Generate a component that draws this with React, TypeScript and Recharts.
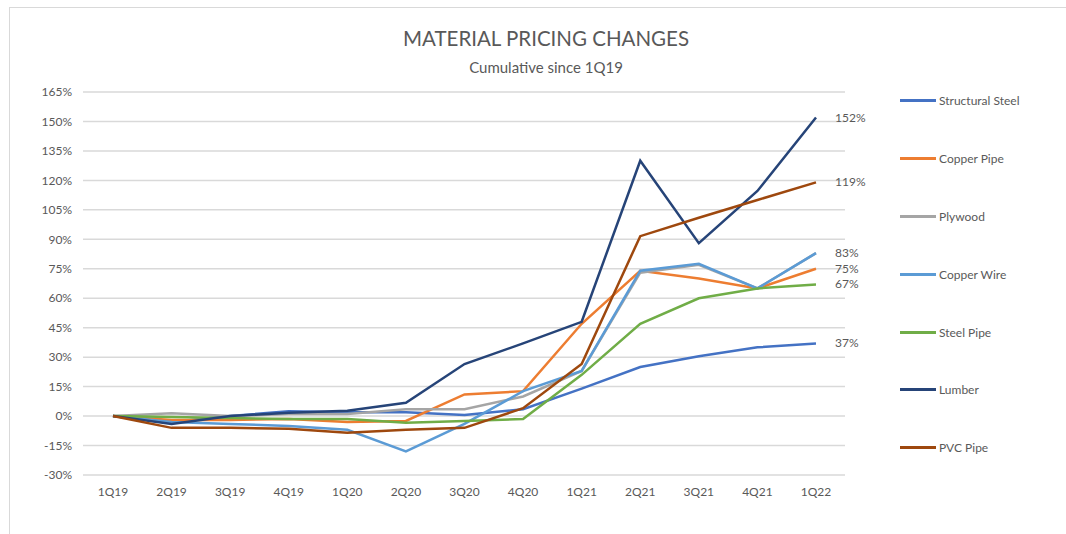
import React from 'react';
import { LineChart, Line, XAxis, YAxis, CartesianGrid, LabelList } from 'recharts';

const quarters = ['1Q19', '2Q19', '3Q19', '4Q19', '1Q20', '2Q20', '3Q20', '4Q20', '1Q21', '2Q21', '3Q21', '4Q21', '1Q22'];

const structuralSteel = [0, -3, 0, 2.5, 2, 2, 0.5, 3.5, 14, 25, 30.5, 35, 37];
const copperPipe = [0, -2, -2, -1.5, -3, -2.5, 11, 12.7, 47, 74, 70, 65, 75];
const plywood = [0, 1.5, 0, 1, 1, 3.5, 3.5, 10, 23, 73, 77, 65, 83];
const copperWire = [0, -3, -4, -5, -7, -18, -4, 12.7, 23, 74, 77.5, 65, 83];
const steelPipe = [0, -0.5, -1, -1.5, -1.5, -3.4, -2.5, -1.5, 21, 47, 60, 65, 67];
const lumber = [0, -4, 0, 1.7, 2.7, 6.8, 26.5, 37, 48, 130, 88, 114.6, 152];
const pvcPipe = [0, -6, -6, -6.5, -8.5, -7, -6, 4, 26.5, 91.6, 101, 110, 119];

const yTicks = [-30, -15, 0, 15, 30, 45, 60, 75, 90, 105, 120, 135, 150, 165];

const seriesList = [
	{ key: 'Structural Steel', values: structuralSteel, color: '#4472C4', label: true },
	{ key: 'Copper Pipe', values: copperPipe, color: '#ED7D31', label: true },
	{ key: 'Plywood', values: plywood, color: '#A5A5A5', label: false },
	{ key: 'Copper Wire', values: copperWire, color: '#5B9BD5', label: true },
	{ key: 'Steel Pipe', values: steelPipe, color: '#70AD47', label: true },
	{ key: 'Lumber', values: lumber, color: '#264478', label: true },
	{ key: 'PVC Pipe', values: pvcPipe, color: '#9E480E', label: true },
];

const data = quarters.map((q, i) => {
	const row: Record<string, string | number> = { quarter: q };
	seriesList.forEach((s) => {
		row[s.key] = s.values[i];
	});
	return row;
});

const FONT = 'Lato, "Open Sans", sans-serif';
const TEXT = '#595959';

const lastIndex = quarters.length - 1;

function EndLabel(props: any) {
	const { x, y, value, index } = props;
	if (index !== lastIndex) return null;
	return (
		<text x={x + 19} y={y} dy={4} fontSize={12} fill={TEXT} fontFamily={FONT}>
			{Math.round(value)}%
		</text>
	);
}

function LegendBox() {
	return (
		<div style={{ position: 'absolute', left: 900, top: 72, width: 160, fontFamily: FONT, fontSize: 12, color: TEXT }}>
			{seriesList.map((s) => (
				<div key={s.key} style={{ display: 'flex', alignItems: 'center', height: 57.8 }}>
					<div style={{ width: 36, height: 3, backgroundColor: s.color, marginRight: 3 }} />
					<span>{s.key}</span>
				</div>
			))}
		</div>
	);
}

export default function App() {
	return (
		<div style={{ position: 'absolute', left: 0, top: 0, width: 1066, height: 534, background: '#fff', overflow: 'hidden' }}>
			<div
				style={{
					position: 'absolute',
					left: 9,
					top: 7,
					width: 1070,
					height: 540,
					borderLeft: '1px solid #d9d9d9',
					borderTop: '1px solid #d9d9d9',
				}}
			/>
			<div
				style={{
					position: 'absolute',
					left: 0,
					width: 1092,
					top: 24,
					textAlign: 'center',
					fontFamily: FONT,
					color: TEXT,
				}}
			>
				<div style={{ fontSize: 20.5, lineHeight: '28px' }}>MATERIAL PRICING CHANGES</div>
				<div style={{ fontSize: 15, lineHeight: '22px', marginTop: 4 }}>Cumulative since 1Q19</div>
			</div>
			<div style={{ position: 'absolute', left: 0, top: 0 }}>
				<LineChart width={1066} height={534} data={data} margin={{ top: 92, right: 221, bottom: 29, left: 0 }}>
					<CartesianGrid vertical={false} stroke="#d9d9d9" strokeWidth={1.5} />
					<XAxis
						dataKey="quarter"
						axisLine={false}
						tickLine={false}
						tickSize={0}
						tickMargin={12}
						padding={{ left: 30, right: 29 }}
						interval={0}
						tick={{ fontSize: 12, fill: TEXT, fontFamily: FONT }}
					/>
					<YAxis
						width={83}
						domain={[-30, 165]}
						ticks={yTicks}
						interval={0}
						axisLine={false}
						tickLine={false}
						tickSize={0}
						tickMargin={11}
						tickFormatter={(v: number) => `${v}%`}
						tick={{ fontSize: 12, fill: TEXT, fontFamily: FONT }}
					/>
					{seriesList.map((s) => (
						<Line
							key={s.key}
							type="linear"
							dataKey={s.key}
							stroke={s.color}
							strokeWidth={2.5}
							dot={false}
							activeDot={false}
							isAnimationActive={false}
						>
							{s.label && <LabelList dataKey={s.key} content={EndLabel} />}
						</Line>
					))}
				</LineChart>
			</div>
			<LegendBox />
		</div>
	);
}
